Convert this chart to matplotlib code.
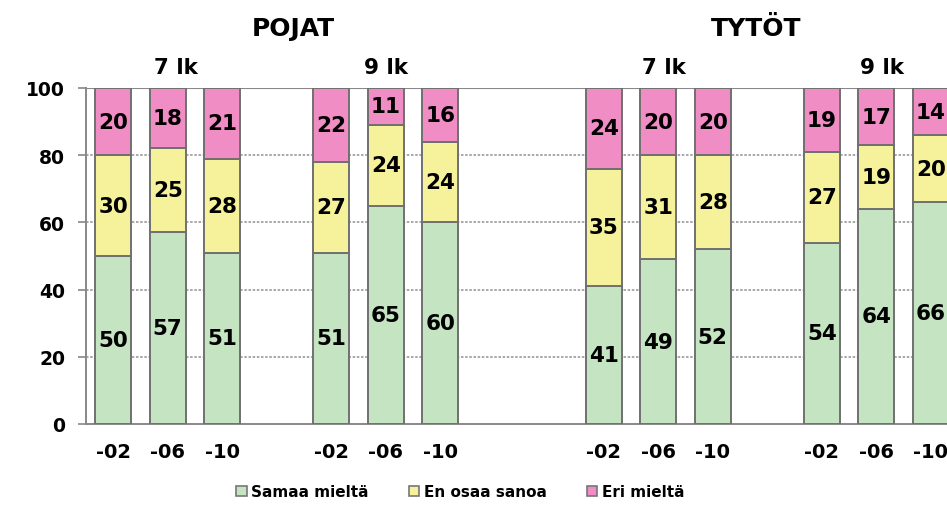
import matplotlib
matplotlib.use('Agg')
import matplotlib.pyplot as plt
from matplotlib.patches import Patch
import matplotlib.transforms as mtransforms

# bar slots, gaps between the grade groups
slots = [0, 1, 2, 4, 5, 6, 9, 10, 11, 13, 14, 15]
years = ['-02', '-06', '-10'] * 4

samaa = [50, 57, 51, 51, 65, 60, 41, 49, 52, 54, 64, 66]
en_osaa = [30, 25, 28, 27, 24, 24, 35, 31, 28, 27, 19, 20]
eri = [20, 18, 21, 22, 11, 16, 24, 20, 20, 19, 17, 14]

series = ['Samaa mieltä', 'En osaa sanoa', 'Eri mieltä']
colors = ['#c4e4c2', '#f6f29c', '#f08dc4']

grade_labels = ['7 lk', '9 lk', '7 lk', '9 lk']
grade_pos = [1.15, 5.0, 10.1, 14.1]
gender_labels = ['POJAT', 'TYTÖT']
gender_pos = [3.3, 11.8]

fig = plt.figure(figsize=(9.47, 5.06), dpi=100)
fig.patch.set_facecolor('white')
ax = fig.add_axes([86 / 947, 81 / 506, 872 / 947, 336 / 506])

edge = '#707070'
bottom = [0] * len(slots)
for vals, col in zip([samaa, en_osaa, eri], colors):
    ax.bar(slots, vals, width=0.66, bottom=bottom, color=col,
           edgecolor=edge, linewidth=1.4, zorder=3)
    for x, b, v in zip(slots, bottom, vals):
        ax.text(x, b + v / 2, str(v), ha='center', va='center',
                fontsize=15.5, fontweight='bold', color='black', zorder=4)
    bottom = [b + v for b, v in zip(bottom, vals)]

ax.set_xlim(-0.5, 15.5)
ax.set_ylim(0, 100)
ax.set_yticks([0, 20, 40, 60, 80, 100])
ax.set_xticks(slots)
ax.set_xticklabels(years)
for lab in ax.get_xticklabels():
    lab.set_fontweight('bold')
    lab.set_fontsize(14)
for lab in ax.get_yticklabels():
    lab.set_fontweight('bold')
    lab.set_fontsize(13.5)
ax.tick_params(axis='x', length=0, pad=13)
ax.tick_params(axis='y', length=6, width=1.2, color='#888888', pad=9)

for y in [20, 40, 60, 80]:
    ax.axhline(y, color='#9a9a9a', linewidth=1.2, linestyle=(0, (1.5, 1)), zorder=1)
ax.axhline(100, color='#888888', linewidth=1.5, zorder=1)

for s in ['top', 'right']:
    ax.spines[s].set_visible(False)
ax.spines['left'].set_color('#888888')
ax.spines['bottom'].set_color('#888888')
ax.spines['left'].set_linewidth(1.4)
ax.spines['bottom'].set_linewidth(1.4)

trans = mtransforms.blended_transform_factory(ax.transData, ax.transAxes)
for lab, x in zip(grade_labels, grade_pos):
    ax.text(x, 1.062, lab, transform=trans, ha='center', va='center',
            fontsize=15.5, fontweight='bold')
for lab, x in zip(gender_labels, gender_pos):
    ax.text(x, 1.18, lab, transform=trans, ha='center', va='center',
            fontsize=18, fontweight='bold')

handles = [Patch(facecolor=c, edgecolor='#777777', linewidth=1.2) for c in colors]
fig.legend(handles, series, loc='center', bbox_to_anchor=(0.486, 0.026), ncol=3,
           frameon=False, handlelength=0.7, handleheight=0.7, handletextpad=0.3,
           columnspacing=2.6, prop={'weight': 'bold', 'size': 11})

fig.savefig('out.png', dpi=100)
